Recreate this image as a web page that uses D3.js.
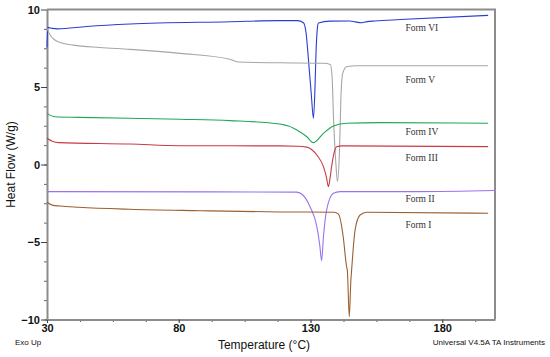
<!DOCTYPE html>
<html>
<head>
<meta charset="utf-8">
<script src="https://cdn.jsdelivr.net/npm/d3@7"></script>
<style>
  body { margin: 0; background: #fff; }
  svg { display: block; font-family: "Liberation Sans", Arial, sans-serif; }
</style>
</head>
<body>
<div id="chart"></div>
<script>
// DSC traces, [temperature °C, heat flow W/g]
const formVI = [[30,7.55],[30.3,8.85],[32,8.78],[34,8.75],[45,8.9],[61.5,9.06],[99.4,9.21],[118,9.28],[125,9.28],[127.3,9.15],[128.3,8.5],[129.2,6.8],[130.3,4.5],[131.1,2.98],[131.7,5.0],[132.1,7.3],[132.6,8.8],[133,9.13],[137.4,9.25],[145,9.26],[147,9.2],[149.4,9.15],[151.5,9.22],[154.5,9.26],[164,9.35],[197.4,9.62]];
const formV = [[30,8.8],[31,8.4],[33,8.03],[36,7.82],[40,7.7],[50,7.55],[61.5,7.43],[80.5,7.17],[99.4,6.79],[102.5,6.61],[118.4,6.56],[135,6.53],[137.5,6.45],[138.2,5.6],[138.7,3.1],[139.7,-0.14],[140.2,-1.1],[141,0.94],[141.5,4.16],[142.2,5.88],[143.7,6.31],[147.5,6.37],[197.4,6.37]];
const formIV = [[30,3.3],[33,3.08],[42,3.04],[80.5,2.92],[99.4,2.83],[118.4,2.61],[124.8,2.23],[128.6,1.79],[131.1,1.41],[134.9,2.01],[138.7,2.48],[143.7,2.66],[156.4,2.7],[197.4,2.66]];
const formIII = [[30,1.69],[32,1.5],[34.5,1.41],[61.5,1.32],[80.5,1.21],[118.4,1.2],[125,1.18],[128.6,1.12],[130.5,0.95],[132.4,0.61],[134.9,-0.14],[136,-0.8],[136.8,-1.43],[137.4,-0.9],[138,-0.14],[139,0.8],[139.9,1.15],[142,1.2],[197.4,1.15]];
const formII = [[30,-1.75],[124.8,-1.78],[127,-1.95],[129.8,-2.72],[132.4,-4.01],[133.5,-5.2],[134.2,-6.2],[134.9,-4.66],[136.1,-2.94],[138.7,-1.86],[141.2,-1.75],[170,-1.75],[200,-1.68]];
const formI = [[30,-2.44],[32,-2.62],[35,-2.68],[42,-2.76],[61.5,-2.89],[88,-2.98],[118,-3.06],[139,-3.08],[140.6,-3.2],[142.4,-4.66],[143.6,-6.5],[144,-6.9],[144.7,-9.82],[145.3,-7.5],[145.6,-6.8],[146.9,-4.23],[148.8,-3.26],[151.3,-3.08],[197.4,-3.15]];

const names = ["Form VI", "Form V", "Form IV", "Form III", "Form II", "Form I"];
const colors = ["#2b3dd0", "#a6a6a6", "#1fa855", "#c83a44", "#9a72ee", "#9c5f2e"];
// where each name sits (heat flow value), next to its trace
const labelAt = [8.8, 5.45, 2.15, 0.45, -2.2, -3.85];
const labelTemp = 166;

const xTicks = [30, 80, 130, 180];
const yTicks = [-10, -5, 0, 5, 10];

const width = 550, height = 357;
const mLeft = 47, mRight = 495, mTop = 9.5, mBottom = 319.5;

const svg = d3.select("#chart").append("svg")
    .attr("width", width)
    .attr("height", height);

svg.append("rect").attr("width", width).attr("height", height).attr("fill", "#fff");

const x = d3.scaleLinear().domain([30, 200]).range([mLeft, mRight]);
const y = d3.scaleLinear().domain([-10, 10]).range([mBottom, mTop]);

const axisColor = "#8c8c8c";

// minor ticks
const xMinor = d3.range(30, 200, 12.5);
const yMinor = d3.range(-10, 10, 1.25);

svg.append("g")
    .attr("transform", `translate(0,${mBottom})`)
    .call(d3.axisBottom(x).tickValues(xMinor).tickSize(2.5).tickFormat(""))
    .call(g => g.select(".domain").remove())
    .selectAll("line").attr("stroke", "#555");

svg.append("g")
    .attr("transform", `translate(${mLeft},0)`)
    .call(d3.axisLeft(y).tickValues(yMinor).tickSize(3).tickFormat(""))
    .call(g => g.select(".domain").remove())
    .selectAll("line").attr("stroke", "#666");

const xAxis = svg.append("g")
    .attr("transform", `translate(0,${mBottom})`)
    .call(d3.axisBottom(x).tickValues(xTicks).tickSize(3.5).tickSizeOuter(0).tickPadding(1.5));

const yAxis = svg.append("g")
    .attr("transform", `translate(${mLeft},0)`)
    .call(d3.axisLeft(y).tickValues(yTicks).tickSize(6).tickSizeOuter(0).tickPadding(1));

[xAxis, yAxis].forEach(g => {
    g.select(".domain").attr("stroke", axisColor).attr("stroke-width", 2);
    g.selectAll(".tick line").attr("stroke", "#444");
    g.selectAll("text")
        .attr("fill", "#111")
        .style("font-size", "11px")
        .style("font-weight", "bold")
        .style("font-family", "'Liberation Sans', Arial, sans-serif");
});

// frame top & right
svg.append("path")
    .attr("d", `M${mLeft},${mTop}H${mRight}V${mBottom}`)
    .attr("fill", "none")
    .attr("stroke", axisColor)
    .attr("stroke-width", 2);

const line = d3.line()
    .x(d => x(d[0]))
    .y(d => y(d[1]))
    .curve(d3.curveMonotoneX);

const series = [formVI, formV, formIV, formIII, formII, formI];

svg.append("g")
    .selectAll("path")
    .data(series)
    .enter()
    .append("path")
    .attr("d", line)
    .attr("fill", "none")
    .attr("stroke", (d, i) => colors[i])
    .attr("stroke-width", 1.1);

svg.append("g")
    .selectAll("text")
    .data(names)
    .enter()
    .append("text")
    .attr("x", x(labelTemp))
    .attr("y", (d, i) => y(labelAt[i]))
    .attr("dy", "0.35em")
    .style("font-family", "'Liberation Serif', 'Times New Roman', serif")
    .style("font-size", "9.5px")
    .attr("fill", "#333")
    .text(d => d);

// axis titles
svg.append("text")
    .attr("transform", `translate(15,${(mTop + mBottom) / 2}) rotate(-90)`)
    .attr("text-anchor", "middle")
    .style("font-size", "12px")
    .attr("fill", "#111")
    .text("Heat Flow (W/g)");

svg.append("text")
    .attr("x", 264)
    .attr("y", 349)
    .attr("text-anchor", "middle")
    .style("font-size", "12px")
    .attr("fill", "#111")
    .text("Temperature (°C)");

svg.append("text")
    .attr("x", 15)
    .attr("y", 345)
    .style("font-size", "8px")
    .attr("fill", "#111")
    .text("Exo Up");

svg.append("text")
    .attr("x", 545)
    .attr("y", 345)
    .attr("text-anchor", "end")
    .style("font-size", "8px")
    .attr("fill", "#111")
    .text("Universal V4.5A TA Instruments");
</script>
</body>
</html>
